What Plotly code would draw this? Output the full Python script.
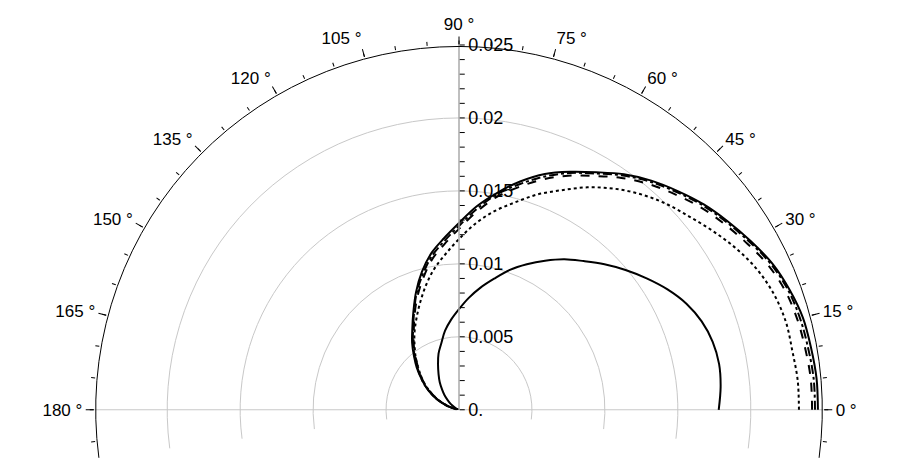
import plotly.graph_objects as go

# ---- data ----
theta_deg = [0, 5, 10, 15, 20, 25, 30, 35, 40, 45, 50, 55, 60, 65, 70, 75, 80, 85, 90,
             95, 100, 105, 110, 115, 120, 125, 130, 135, 140, 145, 150, 155, 160, 165, 170, 175, 180]

r_small = [0.0178, 0.0180, 0.0181, 0.0180, 0.0177, 0.0172, 0.0165, 0.0157, 0.0149, 0.0141,
           0.0133, 0.0126, 0.0118, 0.0110, 0.0102, 0.0093, 0.0085, 0.0077, 0.0069,
           0.0062, 0.0055, 0.0047, 0.0041, 0.0034, 0.0028, 0.0023, 0.0018, 0.0014, 0.0010,
           0.0007, 0.0004, 0.0002, 0.0, 0.0, 0.0, 0.0, 0.0]

r_outer = [0.0246, 0.0246, 0.0245, 0.0244, 0.0241, 0.0237, 0.0231, 0.0225, 0.0219, 0.0212,
           0.0205, 0.0197, 0.0188, 0.0180, 0.0172, 0.0162, 0.0151, 0.0140, 0.0128,
           0.0118, 0.0109, 0.0098, 0.0086, 0.0074, 0.0064, 0.0056, 0.0048, 0.0041, 0.0034,
           0.0028, 0.0022, 0.0016, 0.0010, 0.0005, 0.0002, 0.0, 0.0]

r_dashdot = [0.0244, 0.0244, 0.0243, 0.0242, 0.0240, 0.0236, 0.0230, 0.0224, 0.0218, 0.0211,
             0.0204, 0.0196, 0.0187, 0.0179, 0.0170, 0.0160, 0.0150, 0.0138, 0.0126,
             0.0116, 0.0107, 0.0096, 0.0085, 0.0073, 0.0063, 0.0055, 0.0047, 0.0040, 0.0034,
             0.0028, 0.0022, 0.0016, 0.0010, 0.0005, 0.0002, 0.0, 0.0]

r_dashed = [0.0242, 0.0242, 0.0241, 0.0240, 0.0238, 0.0234, 0.0228, 0.0222, 0.0216, 0.0209,
            0.0202, 0.0194, 0.0185, 0.0177, 0.0168, 0.0158, 0.0148, 0.0136, 0.0124,
            0.0114, 0.0105, 0.0094, 0.0083, 0.0072, 0.0062, 0.0054, 0.0046, 0.0039, 0.0033,
            0.0027, 0.0021, 0.0015, 0.0010, 0.0005, 0.0002, 0.0, 0.0]

r_dotted = [0.0233, 0.0233, 0.0232, 0.0232, 0.0230, 0.0226, 0.0220, 0.0213, 0.0206, 0.0200,
            0.0193, 0.0185, 0.0176, 0.0166, 0.0157, 0.0147, 0.0138, 0.0128, 0.0117,
            0.0107, 0.0098, 0.0088, 0.0078, 0.0069, 0.0061, 0.0053, 0.0046, 0.0039, 0.0033,
            0.0027, 0.0021, 0.0015, 0.0009, 0.0004, 0.0001, 0.0, 0.0]

radial_major = [0, 0.005, 0.01, 0.015, 0.02, 0.025]
radial_major_text = ["0.", "0.005", "0.01", "0.015", "0.02", "0.025"]
radial_minor = [i / 1000 for i in range(0, 26)]
angle_major = [0, 15, 30, 45, 60, 75, 90, 105, 120, 135, 150, 165, 180]
angle_minor = list(range(-5, 190, 5))

R_MAX = 0.025
SECTOR = [-7.6, 187.6]
FONT = "Liberation Sans, Arial, sans-serif"

fig = go.Figure()

series = [
    (r_small, "solid"),
    (r_dotted, "dot"),
    (r_dashed, "dash"),
    (r_dashdot, "dashdot"),
    (r_outer, "solid"),
]
for rv, dash in series:
    fig.add_trace(go.Scatterpolar(
        r=rv, theta=theta_deg, mode="lines", subplot="polar",
        line=dict(color="black", width=2, dash=dash, shape="spline", smoothing=1.0),
        showlegend=False, hoverinfo="skip"))

# invisible anchors so overlay subplots are drawn
for sp in ["polar2", "polar3"]:
    fig.add_trace(go.Scatterpolar(r=[0], theta=[0], mode="markers", subplot=sp,
                                  marker=dict(opacity=0), showlegend=False, hoverinfo="skip"))

common = dict(domain=dict(x=[0, 1], y=[0, 1]), sector=SECTOR)

# base: grid
fig.update_layout(polar=dict(
    **common, bgcolor="white",
    radialaxis=dict(range=[0, R_MAX], angle=90, tickvals=radial_major[1:-1],
                    showgrid=True, gridcolor="#c8c8c8", gridwidth=1,
                    showticklabels=False, ticks="", showline=False),
    angularaxis=dict(direction="counterclockwise", rotation=0,
                     tickvals=[0, 180], showgrid=True, gridcolor="#c8c8c8", gridwidth=1,
                     showticklabels=False, ticks="", showline=False),
))

# overlay: labels, major ticks
fig.update_layout(polar2=dict(
    **common, bgcolor="rgba(0,0,0,0)",
    radialaxis=dict(range=[0, R_MAX], angle=90, tickangle=90,
                    tickvals=radial_minor,
                    ticktext=[(radial_major_text[radial_major.index(v)]
                               if any(abs(v - m) < 1e-9 for m in radial_major) else "")
                              for v in radial_minor],
                    showgrid=False, ticks="outside", ticklen=5, tickcolor="black",
                    showline=True, linecolor="#aaaaaa", linewidth=1.5,
                    tickfont=dict(family=FONT, size=18, color="black")),
    angularaxis=dict(direction="counterclockwise", rotation=0,
                     tickvals=angle_major,
                     ticktext=[f"{a} °" for a in angle_major],
                     showgrid=False, ticks="outside", ticklen=8, tickcolor="black",
                     showline=False,
                     tickfont=dict(family=FONT, size=17, color="black")),
))

# overlay: outer arc + minor angular ticks
fig.update_layout(polar3=dict(
    **common, bgcolor="rgba(0,0,0,0)",
    radialaxis=dict(range=[0, R_MAX], angle=90, tickvals=[0.0249], showgrid=True,
                    gridcolor="black", gridwidth=1.4, showline=False,
                    showticklabels=False, ticks=""),
    angularaxis=dict(direction="counterclockwise", rotation=0,
                     tickvals=angle_minor, showticklabels=False,
                     showgrid=False, ticks="outside", ticklen=4, tickcolor="black",
                     showline=False),
))

fig.update_layout(width=913, height=458, paper_bgcolor="white",
                  margin=dict(l=86, r=97, t=37, b=8), showlegend=False)

fig.write_html("out.html")
